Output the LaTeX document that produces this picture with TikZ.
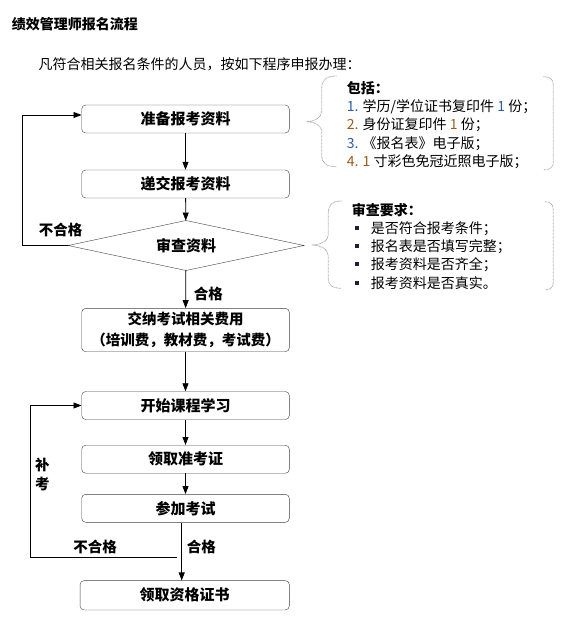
\documentclass[tikz,border=0pt]{standalone}
\usepackage{fontspec}
\setmainfont{Noto Sans CJK SC}
\usepackage{tikz}
\usetikzlibrary{shapes.geometric,arrows.meta}
\definecolor{boxline}{HTML}{404040}
\definecolor{numblue}{HTML}{2A5CA8}
\definecolor{numbrown}{HTML}{9C5B1E}
\definecolor{bulletc}{HTML}{1E1E3C}

\begin{document}
\begin{tikzpicture}[x=1pt,y=-1pt,
        stepbox/.style={draw=boxline, rounded corners=4pt, minimum width=207.6pt, minimum height=28pt, inner sep=0pt, font=\bfseries\fontsize{15}{15}\selectfont},
        flow/.style={-{Triangle[length=8pt,width=6pt]}, line width=0.8pt},
        lbl/.style={inner sep=0pt, font=\bfseries\fontsize{14.5}{19}\selectfont},
        note/.style={inner sep=0pt, anchor=west, font=\fontsize{14}{14}\selectfont},
        brace/.style={draw=gray!65, line width=0.8pt, dash pattern=on 0.8pt off 0.6pt}]
                \useasboundingbox (0,0) rectangle (568,618);
                \node [note, font=\bfseries\fontsize{14}{14}\selectfont] (title) at (11.7,24.5) {绩效管理师报名流程};
                \node [note] (intro) at (38.3,64.5) {凡符合相关报名条件的人员，按如下程序申报办理：};

                % main column
                \node [stepbox] (prep) at (185.5,119) {准备报考资料};
                \node [stepbox] (submit) at (185.5,184) {递交报考资料};
                \node [draw=boxline, diamond, aspect=4.7, minimum width=236pt, minimum height=50pt, inner sep=0pt, outer sep=0pt, font=\bfseries\fontsize{15}{15}\selectfont] (check) at (186,245.5) {审查资料};
                \node [stepbox, minimum height=43.4pt, align=center, font=\bfseries\fontsize{14.5}{21}\selectfont] (fees) at (185.5,330) {交纳考试相关费用\\（培训费，教材费，考试费）};
                \node [stepbox] (study) at (185.5,405.5) {开始课程学习};
                \node [stepbox] (ticket) at (185.5,459.2) {领取准考证};
                \node [stepbox] (exam) at (185.5,508.3) {参加考试};
                \node [stepbox, minimum width=209.3pt, minimum height=29.3pt] (cert) at (184.7,595.3) {领取资格证书};

                \draw [flow] (prep) -- (submit);
                \draw [flow] (submit) -- (check);
                \draw [flow] (check) -- (fees);
                \draw [flow] (check.west) -- ++(-45.8,0) |- ([yshift=4pt]prep.west);
                \draw [flow] (fees) -- (study);
                \draw [flow] (study) -- (ticket);
                \draw [flow] (ticket) -- (exam);
                \draw [flow] ([xshift=-3.8pt]exam.south) -- ([xshift=-3pt]cert.north);
                \coordinate (retake) at (176.7,557.7);
                \draw [flow] (retake) -- ++(-146,0) |- (study.west);

                \node [lbl] (fail1) at (60.5,230) {不合格};
                \node [lbl] (pass1) at (208.3,294.3) {合格};
                \node [lbl] (fail2) at (95,546.7) {不合格};
                \node [lbl] (pass2) at (201.3,546.7) {合格};
                \node [lbl, align=center] (again) at (42.3,474.5) {补\\考};

                % notes on the right
                \draw [brace] (336.7,76) .. controls (326,76) and (321.7,80) .. (321.7,89) -- (321.7,111) .. controls (321.7,118) and (314,121.7) .. (306.7,121.7) .. controls (314,121.7) and (321.7,125) .. (321.7,132) -- (321.7,155) .. controls (321.7,163) and (326,166.7) .. (336.7,166.7);
                \draw [brace] (543.3,76.7) .. controls (550,76.7) and (553.3,79) .. (553.3,85) -- (553.3,163) .. controls (553.3,167) and (550,170) .. (543.3,170);
                \node [note, font=\bfseries\fontsize{14}{14}\selectfont] (incl) at (346.7,88.5) {包括：};
                \node [note] (doc1) at (346.7,106.8) {\textcolor{numblue}{1.} 学历/学位证书复印件 \textcolor{numblue}{1} 份；};
                \node [note] (doc2) at (346.7,125.1) {\textcolor{numbrown}{2.} 身份证复印件 \textcolor{numbrown}{1} 份；};
                \node [note] (doc3) at (346.7,143.4) {\textcolor{numblue}{3.} 《报名表》电子版；};
                \node [note] (doc4) at (346.7,161.7) {\textcolor{numbrown}{4.} \textcolor{numbrown}{1} 寸彩色免冠近照电子版；};

                \draw [brace] (341.7,201) .. controls (332,201) and (328.3,205) .. (328.3,213) -- (328.3,235) .. controls (328.3,241) and (320,245) .. (311.7,245) .. controls (320,245) and (328.3,249) .. (328.3,256) -- (328.3,279) .. controls (328.3,285) and (332,288.3) .. (341.7,288.3);
                \draw [brace] (545,201.7) .. controls (550,201.7) and (553.3,204) .. (553.3,210) -- (553.3,283) .. controls (553.3,287) and (550,290) .. (545,290);
                \node [note, font=\bfseries\fontsize{14}{14}\selectfont] (req) at (351.7,210) {审查要求：};
                \node [note] (req1) at (354.7,228.3) {\textcolor{bulletc}{\rule[3.3pt]{4pt}{4pt}}\hspace{12pt}是否符合报考条件；};
                \node [note] (req2) at (354.7,246.6) {\textcolor{bulletc}{\rule[3.3pt]{4pt}{4pt}}\hspace{12pt}报名表是否填写完整；};
                \node [note] (req3) at (354.7,264.9) {\textcolor{bulletc}{\rule[3.3pt]{4pt}{4pt}}\hspace{12pt}报考资料是否齐全；};
                \node [note] (req4) at (354.7,283.2) {\textcolor{bulletc}{\rule[3.3pt]{4pt}{4pt}}\hspace{12pt}报考资料是否真实。};
            \end{tikzpicture}
\end{document}
